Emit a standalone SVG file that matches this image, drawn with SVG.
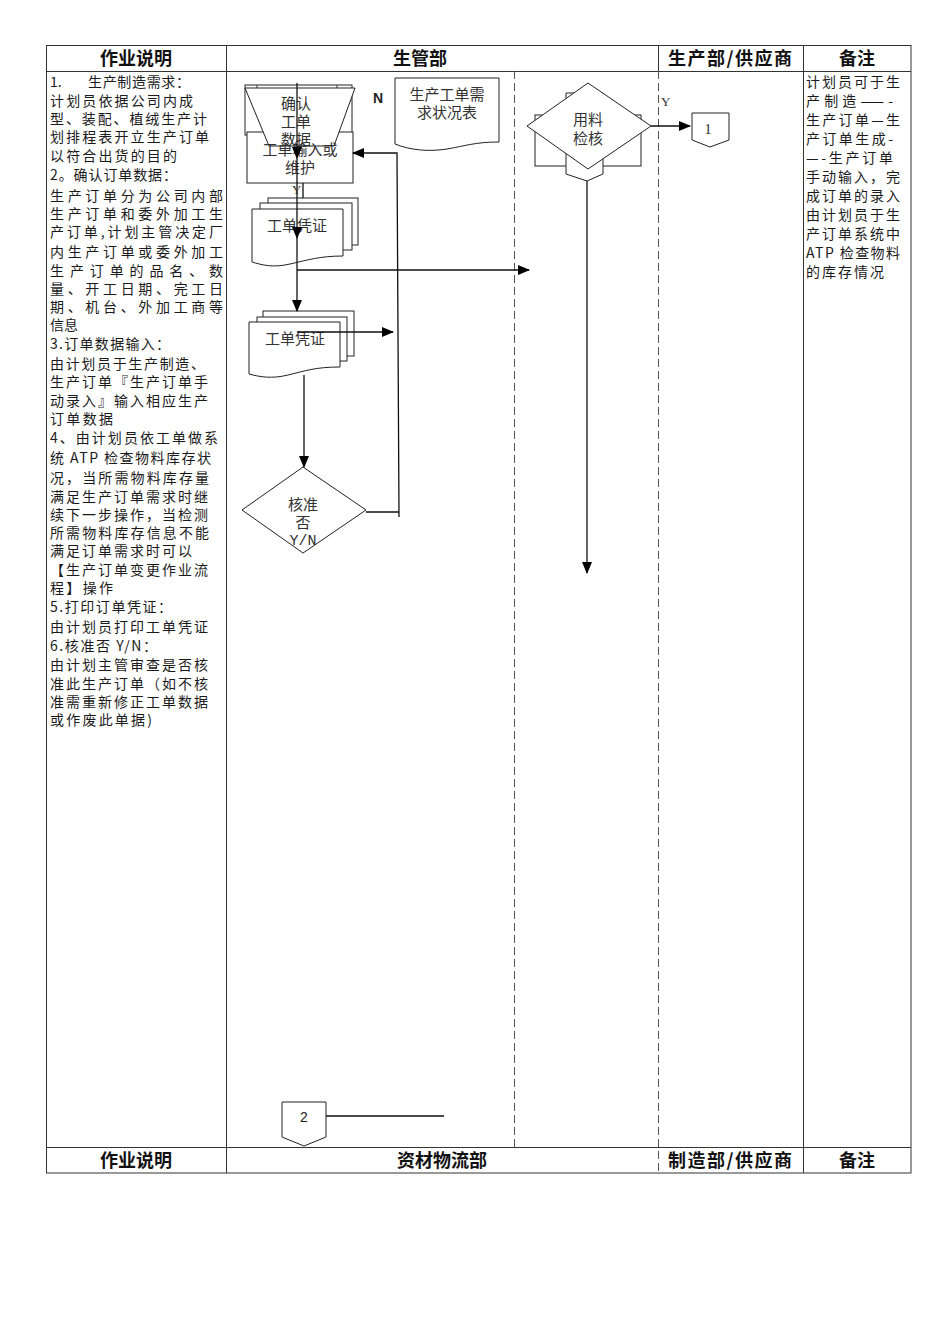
<svg xmlns="http://www.w3.org/2000/svg" width="950" height="1344" viewBox="0 0 950 1344">
<style>
.t{font-family:"Noto Sans CJK SC","Liberation Sans",sans-serif;font-size:14px;fill:#1a1a1a}
.c{font-family:"Noto Sans CJK SC","Liberation Sans",sans-serif;font-size:15px;fill:#333;text-anchor:middle}
.h{font-family:"Noto Sans CJK SC","Liberation Sans",sans-serif;font-size:18px;font-weight:bold;fill:#111;text-anchor:middle}
.lbl{font-family:"Liberation Serif",serif;font-size:13px;fill:#333}
.s{fill:#fff;stroke:#222;stroke-width:1}
.ln{stroke:#111;stroke-width:1.3;fill:none}
.grid{stroke:#333;stroke-width:1;fill:none}
.dash{stroke:#555;stroke-width:1;stroke-dasharray:8 4;fill:none}
</style>
<defs>
<marker id="ah" markerUnits="userSpaceOnUse" markerWidth="12" markerHeight="10" refX="11" refY="5" orient="auto">
<path d="M0,0 L12,5 L0,10 Z" fill="#000"/>
</marker>
</defs>
<rect width="950" height="1344" fill="#fff"/>

<g id="table">
<rect x="46.5" y="45.5" width="864.5" height="1127.5" class="grid"/>
<line x1="46" y1="71.5" x2="911" y2="71.5" class="grid"/>
<line x1="46" y1="1147.5" x2="911" y2="1147.5" class="grid"/>
<line x1="226.5" y1="45" x2="226.5" y2="1173" class="grid"/>
<line x1="803.5" y1="45" x2="803.5" y2="1173" class="grid"/>
<line x1="658.5" y1="45" x2="658.5" y2="71" class="grid"/>
<line x1="658.5" y1="71" x2="658.5" y2="1173" class="dash"/>
<line x1="514.5" y1="71" x2="514.5" y2="1147" class="dash"/>
<text x="136" y="65" class="h">作业说明</text>
<text x="420" y="65" class="h">生管部</text>
<text x="730" y="65" class="h" textLength="124">生产部/供应商</text>
<text x="857" y="65" class="h">备注</text>
<text x="136" y="1167" class="h">作业说明</text>
<text x="442" y="1167" class="h">资材物流部</text>
<text x="730" y="1167" class="h" textLength="124">制造部/供应商</text>
<text x="857" y="1167" class="h">备注</text>
</g>

<g id="desc">
<text class="t" x="50" y="87">1.</text>
<text class="t" x="88" y="87" textLength="102">生产制造需求：</text>
<text class="t" x="50" y="106" textLength="143">计划员依据公司内成</text>
<text class="t" x="50" y="124" textLength="157">型、装配、植绒生产计</text>
<text class="t" x="50" y="142" textLength="159">划排程表开立生产订单</text>
<text class="t" x="50" y="161" textLength="127">以符合出货的目的</text>
<text class="t" x="50" y="180" textLength="127">2。确认订单数据：</text>
<text class="t" x="50" y="201" textLength="173">生产订单分为公司内部</text>
<text class="t" x="50" y="219" textLength="173">生产订单和委外加工生</text>
<text class="t" x="50" y="237" textLength="173">产订单,计划主管决定厂</text>
<text class="t" x="50" y="257" textLength="173">内生产订单或委外加工</text>
<text class="t" x="50" y="276" textLength="173">生产订单的品名、数</text>
<text class="t" x="50" y="294" textLength="173">量、开工日期、完工日</text>
<text class="t" x="50" y="312" textLength="173">期、机台、外加工商等</text>
<text class="t" x="50" y="330" textLength="28">信息</text>
<text class="t" x="50" y="349" textLength="120">3.订单数据输入：</text>
<text class="t" x="50" y="369" textLength="155">由计划员于生产制造、</text>
<text class="t" x="50" y="387" textLength="158">生产订单『生产订单手</text>
<text class="t" x="50" y="406" textLength="158">动录入』输入相应生产</text>
<text class="t" x="50" y="424" textLength="63">订单数据</text>
<text class="t" x="50" y="443" textLength="168">4、由计划员依工单做系</text>
<text class="t" x="50" y="463" textLength="161">统 ATP 检查物料库存状</text>
<text class="t" x="50" y="483" textLength="159">况，当所需物料库存量</text>
<text class="t" x="50" y="502" textLength="158">满足生产订单需求时继</text>
<text class="t" x="50" y="520" textLength="158">续下一步操作，当检测</text>
<text class="t" x="50" y="538" textLength="159">所需物料库存信息不能</text>
<text class="t" x="50" y="556" textLength="142">满足订单需求时可以</text>
<text class="t" x="50" y="575" textLength="158">【生产订单变更作业流</text>
<text class="t" x="50" y="593" textLength="63">程】操作</text>
<text class="t" x="50" y="612" textLength="122">5.打印订单凭证：</text>
<text class="t" x="50" y="632" textLength="158">由计划员打印工单凭证</text>
<text class="t" x="50" y="651" textLength="107">6.核准否 Y/N：</text>
<text class="t" x="50" y="670" textLength="158">由计划主管审查是否核</text>
<text class="t" x="50" y="689" textLength="158">准此生产订单（如不核</text>
<text class="t" x="50" y="707" textLength="158">准需重新修正工单数据</text>
<text class="t" x="50" y="725" textLength="102">或作废此单据)</text>
</g>

<g id="notes">
<text class="t" x="806" y="87" textLength="94">计划员可于生</text>
<text class="t" x="806" y="106" textLength="87">产制造——-</text>
<text class="t" x="806" y="125" textLength="94">生产订单—生</text>
<text class="t" x="806" y="144" textLength="87">产订单生成-</text>
<text class="t" x="806" y="163" textLength="87">—-生产订单</text>
<text class="t" x="806" y="182" textLength="94">手动输入，完</text>
<text class="t" x="806" y="201" textLength="94">成订单的录入</text>
<text class="t" x="806" y="220" textLength="94">由计划员于生</text>
<text class="t" x="806" y="239" textLength="94">产订单系统中</text>
<text class="t" x="806" y="258" textLength="94">ATP 检查物料</text>
<text class="t" x="806" y="277" textLength="78">的库存情况</text>
</g>

<g id="node-stack-top">
<rect x="245" y="85" width="107" height="50" class="s"/>
<line x1="245" y1="89" x2="352" y2="89" class="grid"/>
<line x1="257" y1="85" x2="257" y2="89" class="grid"/>
<line x1="337" y1="85" x2="337" y2="89" class="grid"/>
</g>

<g id="node-input">
<rect x="247" y="132" width="106" height="51" class="s"/>
</g>

<g id="node-confirm">
<polygon points="245,88 355,88 334,146 269,146" class="s"/>
<text class="c" x="296" y="109">确认</text>
<text class="c" x="296" y="127">工单</text>
<text class="c" x="296" y="145">数据</text>
</g>
<g id="node-input-text">
<text class="c" x="300" y="155">工单输入或</text>
<text class="c" x="300" y="173">维护</text>
</g>

<g id="node-demand">
<path d="M395,78 H499 V142 C475,142 465,146 447,149 C428,152 410,150 395,144 Z" class="s"/>
<text class="c" x="447" y="100">生产工单需</text>
<text class="c" x="447" y="118">求状况表</text>
</g>

<g id="node-voucher1">
<rect x="268" y="198" width="90" height="47" class="s"/>
<rect x="260" y="203" width="92" height="47" class="s"/>
<path d="M252,209 H343 V256 C320,256 308,260 290,264 C273,268 262,265 252,262 Z" class="s"/>
<text class="c" x="297" y="231">工单凭证</text>
</g>

<g id="node-voucher2">
<rect x="263" y="311" width="91" height="45" class="s"/>
<rect x="257" y="317" width="90" height="44" class="s"/>
<path d="M249,322 H340 V367 C315,367 305,371 288,375 C272,379 260,377 249,374 Z" class="s"/>
<text class="c" x="295" y="344">工单凭证</text>
</g>

<g id="node-approve">
<polygon points="242,510 303,467 366,510 303,553" class="s"/>
<text class="c" x="303" y="510">核准</text>
<text class="c" x="303" y="528">否</text>
<text class="c" x="303" y="545" style="font-family:'Liberation Mono',monospace">Y/N</text>
</g>

<g id="node-check">
<rect x="535" y="115" width="106" height="51" class="s"/>
<polygon points="566,93 603,93 603,174 587,181 566,174" class="s"/>
<polygon points="527,126 588,83 651,126 588,169" class="s"/>
<text class="c" x="588" y="125">用料</text>
<text class="c" x="588" y="144">检核</text>
</g>

<g id="node-conn1">
<polygon points="692,113 729,113 729,140 710,147 692,140" class="s"/>
<text x="708" y="134" class="lbl" style="font-size:15px" text-anchor="middle">1</text>
</g>

<g id="node-conn2">
<polygon points="282,1102 326,1102 326,1137 304,1146 282,1137" class="s"/>
<text x="304" y="1122" style="font-family:'Liberation Sans',sans-serif;font-size:14px;fill:#222" text-anchor="middle">2</text>
</g>

<g id="connectors">
<line x1="297" y1="83" x2="297" y2="158" class="ln" marker-end="url(#ah)"/>
<line x1="297" y1="158" x2="297" y2="238" class="ln" marker-end="url(#ah)"/>
<line x1="297" y1="238" x2="297" y2="311" class="ln" marker-end="url(#ah)"/>
<line x1="303" y1="183" x2="303" y2="198" class="ln"/>
<line x1="297" y1="270" x2="529" y2="270" class="ln" marker-end="url(#ah)"/>
<line x1="297" y1="332" x2="393" y2="332" class="ln" marker-end="url(#ah)"/>
<polyline points="399,517 397,153 353,153" class="ln" marker-end="url(#ah)"/>
<line x1="366" y1="512" x2="399" y2="512" class="ln"/>
<line x1="304" y1="375" x2="304" y2="467" class="ln" marker-end="url(#ah)"/>
<line x1="587" y1="181" x2="587" y2="573" class="ln" marker-end="url(#ah)"/>
<line x1="651" y1="126" x2="690" y2="126" class="ln" marker-end="url(#ah)"/>
<line x1="326" y1="1116" x2="444" y2="1116" class="ln"/>
<text x="373" y="103" style="font-family:'Liberation Sans',sans-serif;font-size:14px;font-weight:bold;fill:#222">N</text>
<text x="292" y="194" class="lbl">Y</text>
<text x="661" y="106" class="lbl">Y</text>
</g>
</svg>
